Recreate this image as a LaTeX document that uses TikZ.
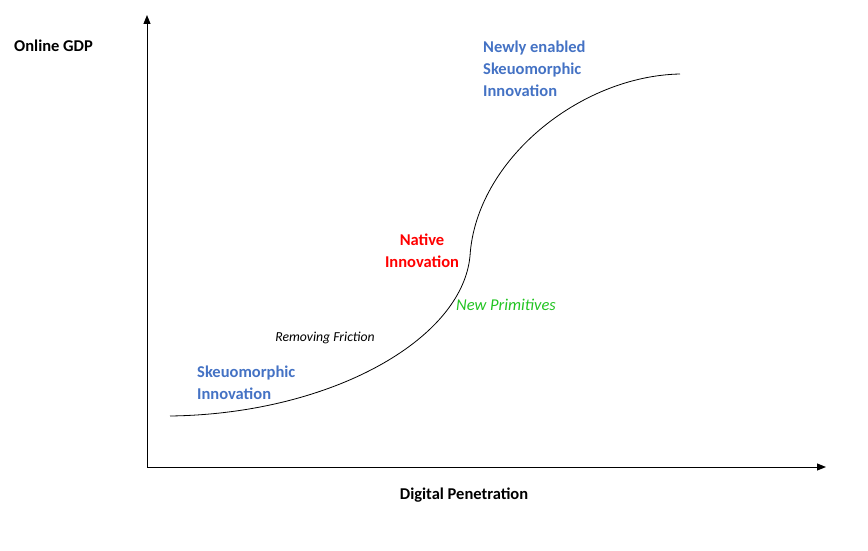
\documentclass[tikz,border=0pt]{standalone}
\usepackage{fontspec}
\setmainfont{Carlito}
\usetikzlibrary{arrows.meta}
\definecolor{lblblue}{HTML}{4472C4}
\definecolor{lblred}{HTML}{FF0000}
\definecolor{lblgreen}{RGB}{34,196,34}
\tikzset{
  axis/.style={line width=1pt,-{Triangle[length=9pt,width=7pt]}},
  lbl/.style={font=\fontsize{16.5}{21.8}\selectfont\bfseries,inner sep=0pt},
  ital/.style={font=\fontsize{16.5}{19}\selectfont\itshape,inner sep=0pt},
}
\begin{document}
\begin{tikzpicture}[x=1pt,y=-1pt]
\useasboundingbox (0,0) rectangle (868,551);
\coordinate (o) at (147,467);
\coordinate (ytop) at (147,15);
\coordinate (xend) at (826,467);
\draw[axis] (o) -- (ytop);
\draw[axis] (o) -- (xend);
\coordinate (s) at (170,416);
\coordinate (m) at (470,256);
\coordinate (e) at (680,74);
\draw[line width=0.8pt] (s) .. controls (330,414) and (462,340) .. (m)
  .. controls (476,160) and (580,76) .. (e);
\node[lbl,anchor=west] (ylab) at (14,46) {Online GDP};
\node[lbl] (xlab) at (464,495) {Digital Penetration};
\node[lbl,lblblue,anchor=west,align=left] (newly) at (483,69) {Newly enabled\\Skeuomorphic\\Innovation};
\node[lbl,lblred,align=center] (native) at (422,251) {Native\\Innovation};
\node[ital,lblgreen] (prim) at (506,305) {New Primitives};
\node[ital,font=\fontsize{13.7}{16}\selectfont\itshape] (fric) at (325,338) {Removing Friction};
\node[lbl,lblblue,anchor=west,align=left] (skeu) at (197,383) {Skeuomorphic\\Innovation};
\end{tikzpicture}
\end{document}
